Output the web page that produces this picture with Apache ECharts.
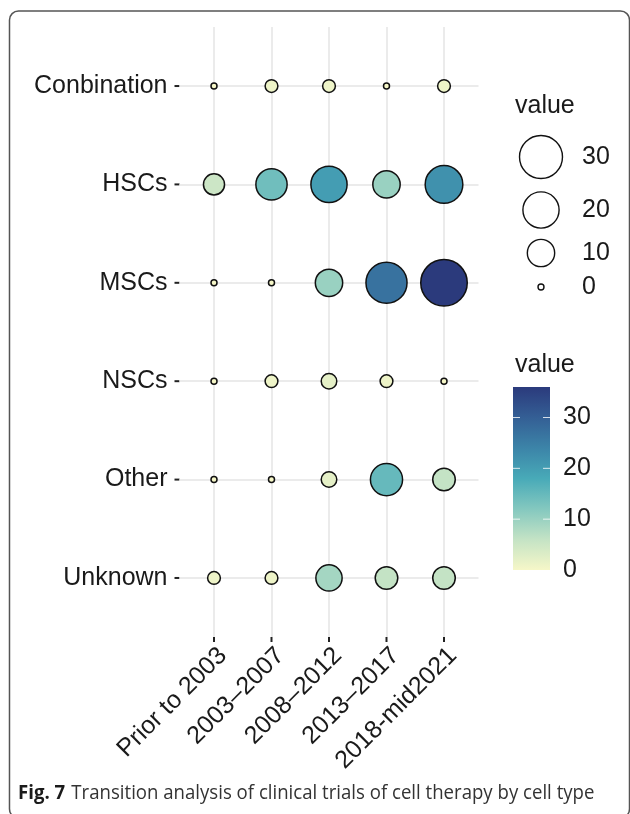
<!DOCTYPE html>
<html>
<head>
<meta charset="utf-8">
<script src="https://cdn.jsdelivr.net/npm/echarts@6/dist/echarts.min.js"></script>
<style>
  html, body { margin: 0; padding: 0; background: #fff; }
  #chart { width: 630px; height: 814px; }
</style>
</head>
<body>
<div id="chart"></div>
<script>
// Time periods (x) and cell types (y)
const periods = ['Prior to 2003', '2003\u20132007', '2008\u20132012', '2013\u20132017', '2018-mid2021'];
const cellTypes = ['Conbination', 'HSCs', 'MSCs', 'NSCs', 'Other', 'Unknown'];

// Number of clinical trials per cell type, one entry per period
const conbination = [0, 1, 1, 0, 1];
const hscs        = [5, 14, 20, 10, 22];
const mscs        = [0, 0, 10, 27, 36];
const nscs        = [0, 1, 2, 1, 0];
const other       = [0, 0, 2, 15, 6];
const unknown     = [1, 1, 9, 6, 6];

// Legend breaks
const sizeBreaks  = [30, 20, 10, 0];
const colorBreaks = [0, 10, 20, 30];

const rows = [conbination, hscs, mscs, nscs, other, unknown];
const valueMin = 0;
const valueMax = Math.max(...rows.flat());

// Colour ramp (light yellow -> green-blue -> dark blue)
const rampColors = ['#f6f7c8', '#c4e3c5', '#84c8bf', '#48aab8', '#3c84a8', '#345f95', '#2b3a7c'];

// Bubble diameter: grows with the square root of the value
function bubbleSize(v) {
  return 6 + 40.5 * Math.sqrt((v - valueMin) / (valueMax - valueMin));
}

const points = [];
rows.forEach((row, r) => row.forEach((v, c) => points.push([c, r, v])));

const chart = echarts.init(document.getElementById('chart'), null, { renderer: 'canvas' });

const FONT = '"Liberation Sans", Arial, Helvetica, sans-serif';
const FS = 25;
const TEXT = '#1a1a1a';
const GRID = { left: 179.5, right: 151.5, top: 27, bottom: 177 };
const TICK_LEN = 5;

// Legend geometry
const sizeLegend = { cx: 541, labelX: 582, titleX: 515, titleY: 106, ys: [157, 210, 253, 287] };
const colorBar = { x: 513, y: 387, w: 37, h: 183, labelX: 563, titleX: 515, titleY: 365 };

const gridLineStyle = { color: '#ebebeb', width: 2, type: 'solid' };

chart.setOption({
  animation: false,
  backgroundColor: '#fff',
  grid: GRID,
  xAxis: {
    type: 'value', min: -0.6, max: 4.6,
    axisLine: { show: false },
    splitLine: { show: false },
    axisTick: { show: false },
    axisLabel: { customValues: periods.map((_, i) => i), rotate: 45, margin: 6,
      verticalAlign: 'top',
      fontSize: FS, fontFamily: FONT, color: TEXT,
      formatter: v => periods[Math.round(v)] }
  },
  yAxis: {
    type: 'value', min: -0.6, max: cellTypes.length - 0.4, inverse: true,
    axisLine: { show: false },
    splitLine: { show: false },
    axisTick: { show: false },
    axisLabel: { customValues: cellTypes.map((_, i) => i), margin: 12,
      fontSize: FS, fontFamily: FONT, color: TEXT,
      formatter: v => cellTypes[Math.round(v)] }
  },
  visualMap: {
    show: false, type: 'continuous', dimension: 2, seriesIndex: 0,
    min: valueMin, max: valueMax,
    inRange: { color: rampColors }
  },
  series: [{
    type: 'scatter',
    z: 3,
    data: points,
    symbol: 'circle',
    symbolSize: d => bubbleSize(d[2]),
    itemStyle: { borderColor: '#111', borderWidth: 1.5, opacity: 1 },
    emphasis: { disabled: true },
    markLine: {
      z: 1, silent: true, symbol: ['none', 'none'],
      label: { show: false },
      emphasis: { disabled: true },
      lineStyle: gridLineStyle,
      data: periods.map((_, i) => ({ xAxis: i }))
        .concat(cellTypes.map((_, i) => ({ yAxis: i })))
    }
  }]
});

const graphics = [];

// axis ticks, placed through the axes' own scales
const gridRect = chart.getModel().getComponent('grid', 0).coordinateSystem.getRect();
periods.forEach((_, i) => {
  const x = chart.convertToPixel({ xAxisIndex: 0 }, i);
  const y0 = gridRect.y + gridRect.height;
  graphics.push({ type: 'line', silent: true,
    shape: { x1: x, y1: y0, x2: x, y2: y0 + TICK_LEN },
    style: { stroke: '#222', lineWidth: 2 } });
});
cellTypes.forEach((_, i) => {
  const y = chart.convertToPixel({ yAxisIndex: 0 }, i);
  const x0 = gridRect.x;
  graphics.push({ type: 'line', silent: true,
    shape: { x1: x0 - TICK_LEN, y1: y, x2: x0, y2: y },
    style: { stroke: '#222', lineWidth: 2 } });
});

// outer frame
graphics.push({
  type: 'rect', silent: true, z: 0,
  shape: { x: 9.5, y: 11, width: 620, height: 807, r: 9 },
  style: { fill: 'none', stroke: '#555', lineWidth: 1.5 }
});

// size legend
graphics.push({ type: 'text', x: sizeLegend.titleX, y: sizeLegend.titleY,
  style: { text: 'value', font: FS + 'px ' + FONT, fill: TEXT, verticalAlign: 'middle' } });
sizeBreaks.forEach((b, i) => {
  graphics.push({ type: 'circle', silent: true,
    shape: { cx: sizeLegend.cx, cy: sizeLegend.ys[i], r: bubbleSize(b) / 2 },
    style: { fill: '#fff', stroke: '#111', lineWidth: 1.4 } });
  graphics.push({ type: 'text', x: sizeLegend.labelX, y: sizeLegend.ys[i],
    style: { text: String(b), font: FS + 'px ' + FONT, fill: TEXT, verticalAlign: 'middle' } });
});

// colour bar legend
graphics.push({ type: 'text', x: colorBar.titleX, y: colorBar.titleY,
  style: { text: 'value', font: FS + 'px ' + FONT, fill: TEXT, verticalAlign: 'middle' } });
graphics.push({
  type: 'rect', silent: true,
  shape: { x: colorBar.x, y: colorBar.y, width: colorBar.w, height: colorBar.h },
  style: {
    fill: {
      type: 'linear', x: 0, y: 1, x2: 0, y2: 0,
      colorStops: rampColors.map((c, i) => ({ offset: i / (rampColors.length - 1), color: c }))
    }
  }
});
colorBreaks.forEach(b => {
  const y = colorBar.y + colorBar.h - (b - valueMin) / (valueMax - valueMin) * colorBar.h;
  if (b > valueMin) {
    graphics.push({ type: 'line', silent: true,
      shape: { x1: colorBar.x, y1: y, x2: colorBar.x + 7, y2: y },
      style: { stroke: 'rgba(255,255,255,0.8)', lineWidth: 1 } });
    graphics.push({ type: 'line', silent: true,
      shape: { x1: colorBar.x + colorBar.w - 7, y1: y, x2: colorBar.x + colorBar.w, y2: y },
      style: { stroke: 'rgba(255,255,255,0.8)', lineWidth: 1 } });
  }
  graphics.push({ type: 'text', x: colorBar.labelX, y: y,
    style: { text: String(b), font: FS + 'px ' + FONT, fill: TEXT, verticalAlign: 'middle' } });
});

// figure caption
graphics.push({
  type: 'text', x: 18, y: 793, scaleX: 0.93,
  style: {
    text: '{b|Fig. 7}  {n|Transition analysis of clinical trials of cell therapy by cell type}',
    verticalAlign: 'middle',
    rich: {
      b: { fontFamily: '"Open Sans", sans-serif', fontWeight: 'bold', fontSize: 20, fill: '#1a1a1a' },
      n: { fontFamily: '"Open Sans", sans-serif', fontSize: 20, fill: '#333' }
    }
  }
});

chart.setOption({ graphic: graphics });
</script>
</body>
</html>
